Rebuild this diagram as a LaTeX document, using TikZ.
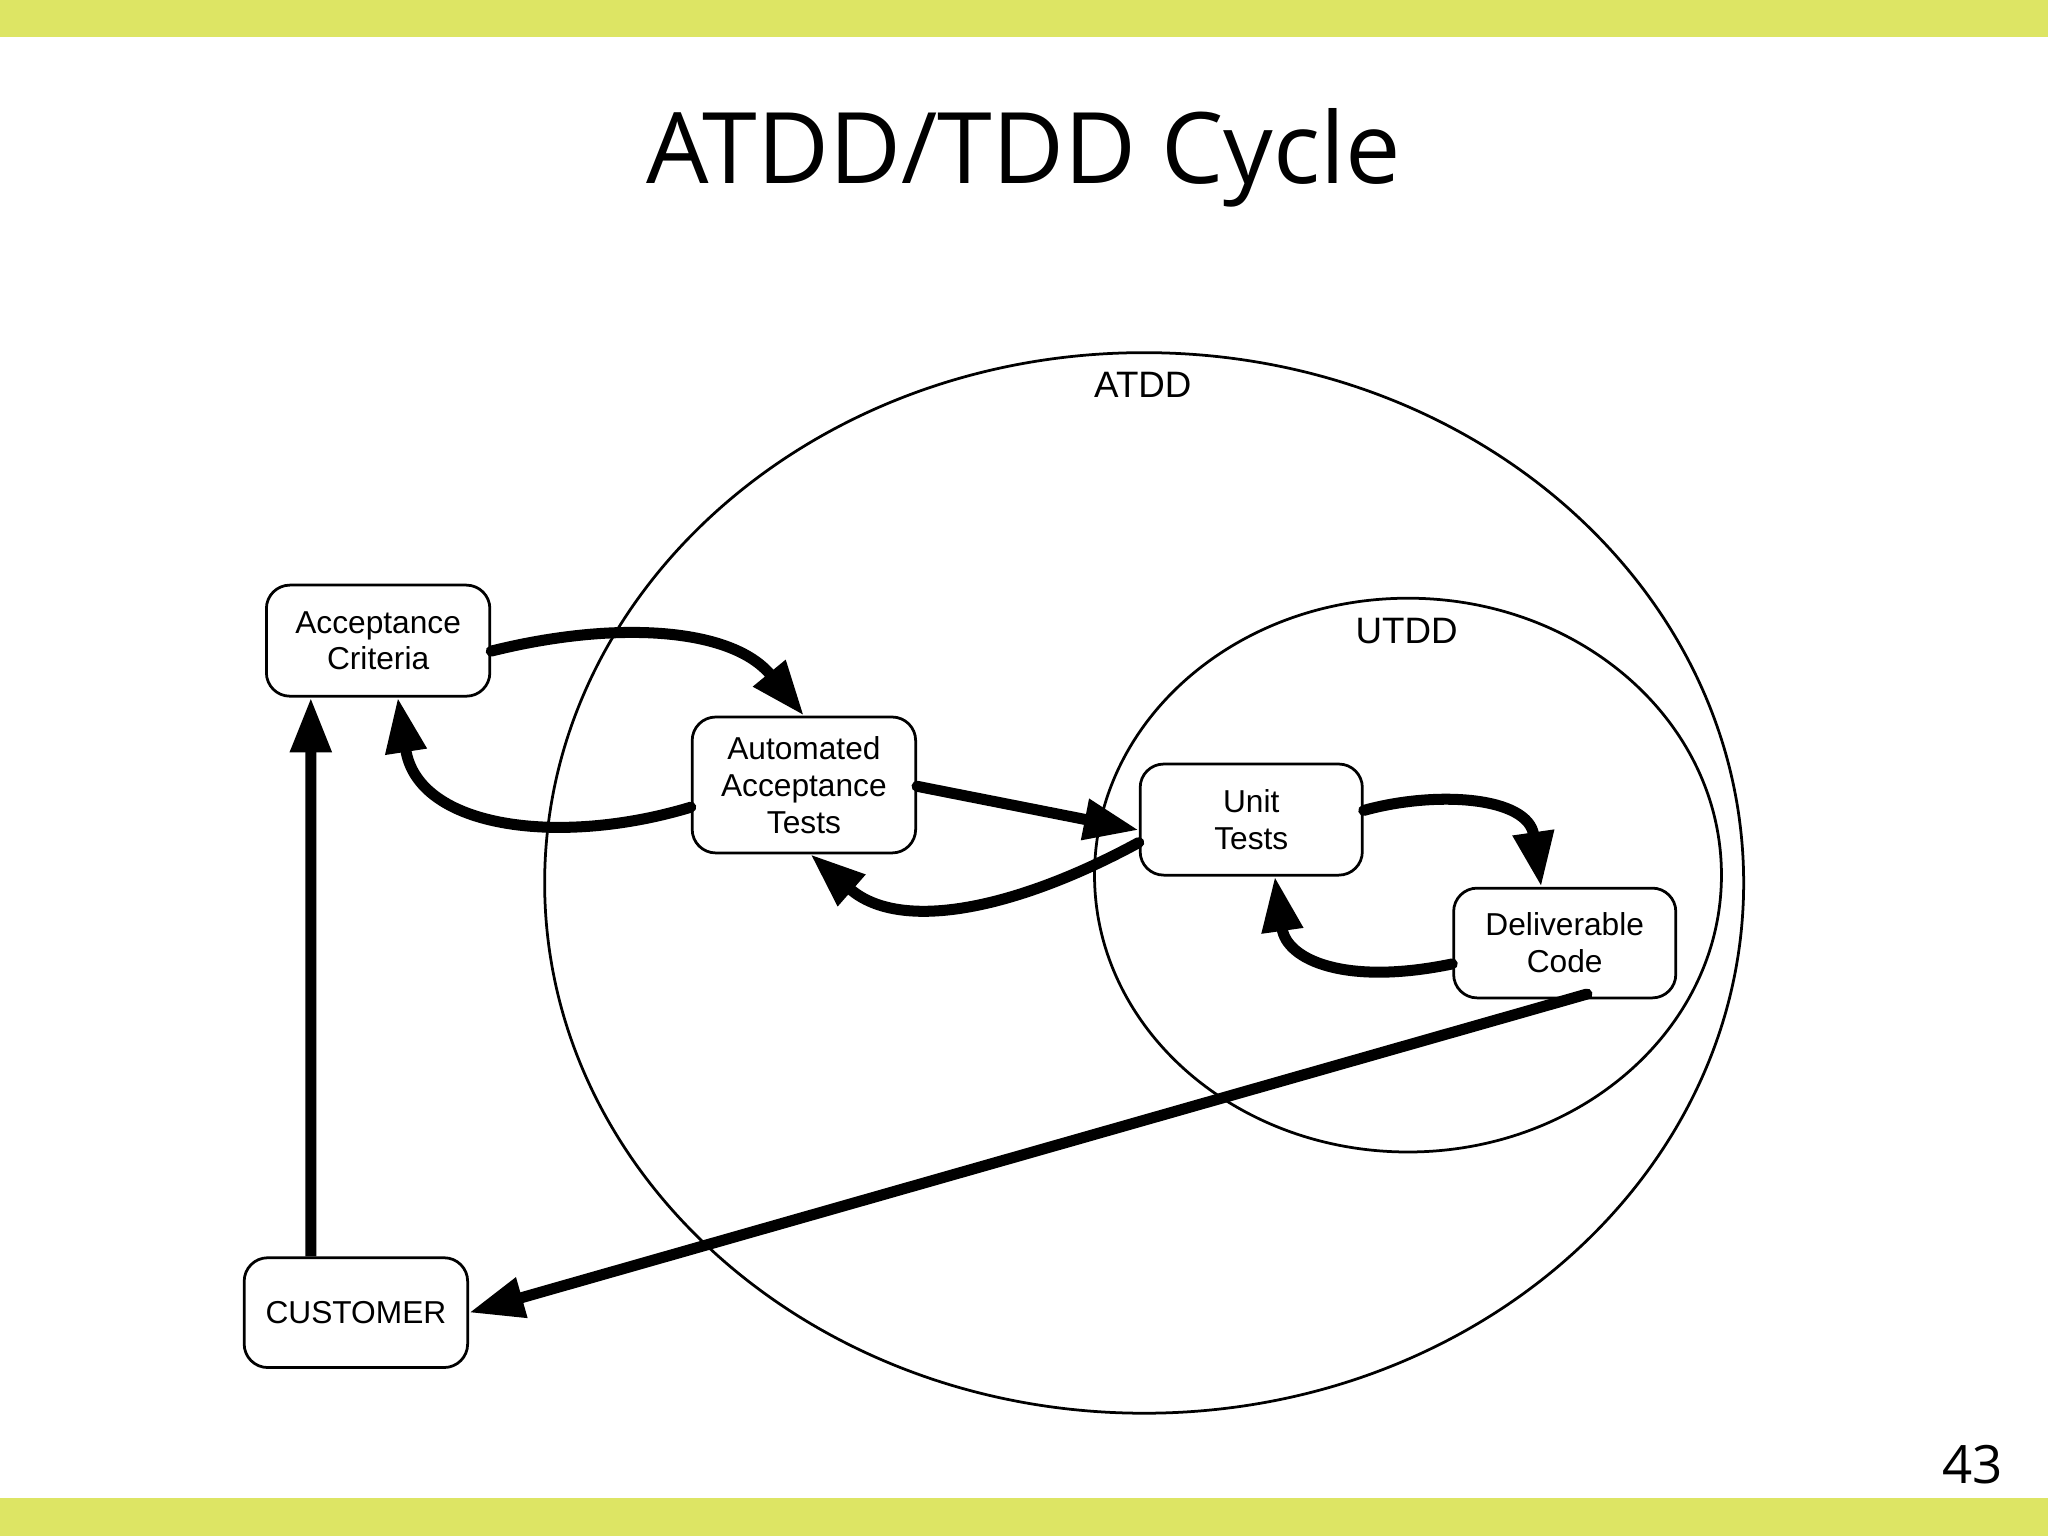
\documentclass[tikz,border=0pt]{standalone}
\usepackage{fontspec}
\setmainfont{Liberation Sans}
\newfontfamily\titlefont{Open Sans}
\usetikzlibrary{arrows.meta}
\definecolor{bar}{HTML}{DDE564}
\begin{document}
\begin{tikzpicture}[x=0.01cm,y=-0.01cm,
  box/.style={draw,rounded corners=0.18cm,line width=0.6pt,align=center,inner sep=0pt,font=\fontsize{6.9pt}{8pt}\selectfont},
  arr/.style={line width=2.4pt,-{Triangle[length=0.42cm,width=0.3cm]}},
  lab/.style={font=\fontsize{8pt}{9pt}\selectfont}]
\useasboundingbox (0,0) rectangle (1568,1176);
\fill[bar] (0,0) rectangle (1568,28);
\fill[bar] (0,1147) rectangle (1568,1176);
\node (title) at (784,121) {\titlefont\fontsize{21.5pt}{25pt}\selectfont ATDD/TDD Cycle};
\node (num) at (1510,1121) {\titlefont\fontsize{11.5pt}{13pt}\selectfont 43};
\draw[line width=0.6pt] (876,676) ellipse [x radius=459, y radius=406];
\draw[line width=0.6pt] (1078,670) ellipse [x radius=240, y radius=212];
\node[lab] (atdd) at (875,295) {ATDD};
\node[lab] (utdd) at (1077,483) {UTDD};
\node[box,minimum width=1.71cm,minimum height=0.85cm] (ac) at (289.5,490.5) {Acceptance\\Criteria};
\node[box,minimum width=1.71cm,minimum height=1.04cm] (aat) at (615.5,601) {Automated\\Acceptance\\Tests};
\node[box,minimum width=1.70cm,minimum height=0.85cm] (ut) at (958,627.5) {Unit\\Tests};
\node[box,minimum width=1.70cm,minimum height=0.84cm] (dc) at (1198,722) {Deliverable\\Code};
\node[box,minimum width=1.71cm,minimum height=0.84cm] (cu) at (272.5,1005) {CUSTOMER};
\coordinate (a1) at ([yshift=-0.08cm]ac.east);
\draw[arr,line cap=round] (a1) .. controls (470,475) and (560,480) .. (aat.north);
\coordinate (a2) at ([yshift=-0.17cm]aat.west);
\draw[arr,line cap=round] (a2) .. controls (430,648) and (320,635) .. ([xshift=0.15cm]ac.south);
\draw[arr,line cap=round] ([yshift=-0.01cm]aat.east) -- ([yshift=-0.08cm]ut.west);
\draw[arr,line cap=round] ([yshift=0.26cm]ut.south west) .. controls (780,695) and (690,715) .. ([xshift=0.05cm]aat.south);
\draw[arr,line cap=round] ([yshift=0.07cm]ut.east) .. controls (1100,605) and (1170,610) .. ([xshift=-0.18cm]dc.north);
\draw[arr,line cap=round] ([yshift=-0.16cm]dc.west) .. controls (1030,755) and (985,735) .. ([xshift=0.18cm]ut.south);
\draw[arr,line cap=round] ([xshift=0.17cm,yshift=0.04cm]dc.south) -- (cu.east);
\draw[arr] ([xshift=-0.345cm]cu.north) -- ([xshift=-0.515cm]ac.south);
\end{tikzpicture}
\end{document}
